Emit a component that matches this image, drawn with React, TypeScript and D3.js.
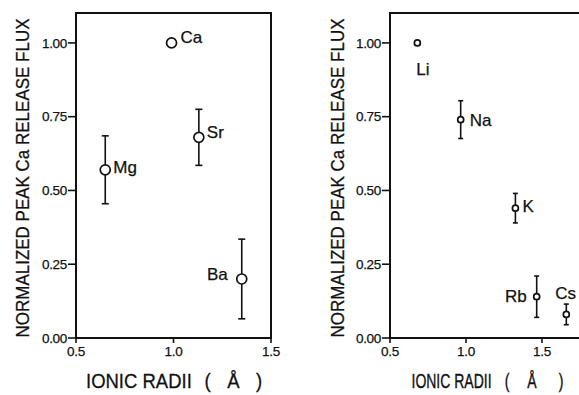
import React from 'react';
import * as d3 from 'd3';

// Divalent cations
const divalentIons = ['Mg', 'Ca', 'Sr', 'Ba'];
const divalentRadii = [0.65, 0.99, 1.13, 1.35];
const divalentFlux = [0.57, 1.0, 0.68, 0.2];
const divalentErr = [0.115, 0, 0.095, 0.135];

// Monovalent cations
const monovalentIons = ['Li', 'Na', 'K', 'Rb', 'Cs'];
const monovalentRadii = [0.68, 0.965, 1.325, 1.465, 1.66];
const monovalentFlux = [1.0, 0.74, 0.44, 0.14, 0.08];
const monovalentErr = [0, 0.064, 0.05, 0.07, 0.035];

const yTicks = [0, 0.25, 0.5, 0.75, 1.0];
const yTickLabels = ['0.00', '0.25', '0.50', '0.75', '1.00'];
const xTicks = [0.5, 1.0, 1.5];
const xTickLabels = ['0.5', '1.0', '1.5'];

const yTitle = 'NORMALIZED PEAK Ca RELEASE FLUX';
const xTitle = 'IONIC RADII';

const FONT = "'Liberation Sans', Arial, Helvetica, sans-serif";
const INK = '#111';

type LabelPlace = { dx: number; dy: number; anchor: 'start' | 'end' };

type PanelProps = {
  left: number;
  right: number;
  xMax: number;
  drawRightEdge: boolean;
  ions: string[];
  radii: number[];
  flux: number[];
  err: number[];
  places: LabelPlace[];
  r: number;
  cap: number;
  yTitleX: number;
  xTitleStart: number;
  xTitleSize: number;
  xTitleStretch: number;
  xTitleBase: number;
  parenL: number;
  angstrom: number;
  parenR: number;
};

const TOP = 13;
const BOTTOM = 338;

function Panel(p: PanelProps) {
  const x = d3.scaleLinear().domain([0.5, p.xMax]).range([p.left, p.right]);
  const y = d3.scaleLinear().domain([0, 1.1]).range([BOTTOM, TOP + 0.4]);
  const s = p.xTitleStretch;
  return (
    <g fontFamily={FONT} fill={INK} stroke={INK} strokeWidth={0}>
      {/* frame */}
      <g stroke={INK} strokeWidth={2}>
        <line x1={p.left} x2={p.left} y1={TOP} y2={BOTTOM + 1} />
        <line x1={p.left - 1} x2={p.right} y1={BOTTOM} y2={BOTTOM} />
        <line x1={p.left - 1} x2={p.right + 1} y1={TOP} y2={TOP} />
        {p.drawRightEdge && <line x1={p.right} x2={p.right} y1={TOP} y2={BOTTOM + 1} />}
      </g>
      {/* y ticks */}
      {yTicks.map((t, i) => (
        <g key={'y' + i}>
          <line x1={p.left - 8} x2={p.left} y1={y(t)} y2={y(t)} stroke={INK} strokeWidth={1.6} />
          <text x={p.left - 9} y={y(t) + 4.8} fontSize={13.5} textAnchor="end" letterSpacing={-0.3} strokeWidth={0.25}>
            {yTickLabels[i]}
          </text>
        </g>
      ))}
      {/* x ticks */}
      {xTicks.map((t, i) => (
        <g key={'x' + i}>
          <line x1={x(t)} x2={x(t)} y1={BOTTOM} y2={BOTTOM + 5} stroke={INK} strokeWidth={1.6} />
          <text x={x(t)} y={356} fontSize={13.5} textAnchor="middle" letterSpacing={-0.3} strokeWidth={0.25}>
            {xTickLabels[i]}
          </text>
        </g>
      ))}
      {/* axis titles */}
      <text
        transform={`translate(${p.yTitleX},178) rotate(-90) scale(1,1.12)`}
        fontSize={17}
        textAnchor="middle"
        strokeWidth={0.25}
      >
        {yTitle}
      </text>
      <g transform={`translate(0,${p.xTitleBase}) scale(1,${s})`} fontSize={p.xTitleSize} strokeWidth={0.25}>
        <text x={p.xTitleStart} y={0}>{xTitle}</text>
        <text x={p.parenL} y={0} textAnchor="middle">(</text>
        <text x={p.angstrom} y={0} textAnchor="middle">Å</text>
        <text x={p.parenR} y={0} textAnchor="middle">)</text>
      </g>
      {/* data */}
      {p.ions.map((ion, i) => {
        const cx = x(p.radii[i]);
        const cy = y(p.flux[i]);
        const e = p.err[i];
        const pl = p.places[i];
        return (
          <g key={ion}>
            {e > 0 && (
              <g stroke={INK} strokeWidth={1.6}>
                <line x1={cx} x2={cx} y1={y(p.flux[i] + e)} y2={y(p.flux[i] - e)} />
                <line x1={cx - p.cap} x2={cx + p.cap} y1={y(p.flux[i] + e)} y2={y(p.flux[i] + e)} />
                <line x1={cx - p.cap} x2={cx + p.cap} y1={y(p.flux[i] - e)} y2={y(p.flux[i] - e)} />
              </g>
            )}
            <circle cx={cx} cy={cy} r={p.r} fill="#fff" stroke={INK} strokeWidth={1.7} />
            <text x={cx + pl.dx} y={cy + pl.dy} fontSize={17} textAnchor={pl.anchor} strokeWidth={0.25}>
              {ion}
            </text>
          </g>
        );
      })}
    </g>
  );
}

const divalentPlaces: LabelPlace[] = [
  { dx: 8, dy: 3, anchor: 'start' },
  { dx: 9, dy: 0.5, anchor: 'start' },
  { dx: 8, dy: 1, anchor: 'start' },
  { dx: -14, dy: 0.8, anchor: 'end' },
];

const monovalentPlaces: LabelPlace[] = [
  { dx: -1, dy: 32, anchor: 'start' },
  { dx: 9, dy: 6, anchor: 'start' },
  { dx: 7, dy: 4, anchor: 'start' },
  { dx: -10, dy: 5, anchor: 'end' },
  { dx: -11, dy: -15, anchor: 'start' },
];

export default function App() {
  return (
    <svg
      width={579}
      height={395}
      viewBox="0 0 579 395"
      style={{ position: 'absolute', left: 0, top: 0, background: '#fff', display: 'block' }}
    >
      <rect width={579} height={395} fill="#fff" />
      <Panel
        left={76}
        right={271}
        xMax={1.5}
        drawRightEdge
        ions={divalentIons}
        radii={divalentRadii}
        flux={divalentFlux}
        err={divalentErr}
        places={divalentPlaces}
        r={5}
        cap={3.5}
        yTitleX={28.5}
        xTitleStart={86}
        xTitleSize={18.5}
        xTitleStretch={1.12}
        xTitleBase={388}
        parenL={207.5}
        angstrom={233.5}
        parenR={259}
      />
      <Panel
        left={390}
        right={580}
        xMax={1.75}
        drawRightEdge={false}
        ions={monovalentIons}
        radii={monovalentRadii}
        flux={monovalentFlux}
        err={monovalentErr}
        places={monovalentPlaces}
        r={3}
        cap={2.5}
        yTitleX={344}
        xTitleStart={411.5}
        xTitleSize={14}
        xTitleStretch={1.4}
        xTitleBase={388}
        parenL={507}
        angstrom={532}
        parenR={561}
      />
    </svg>
  );
}
